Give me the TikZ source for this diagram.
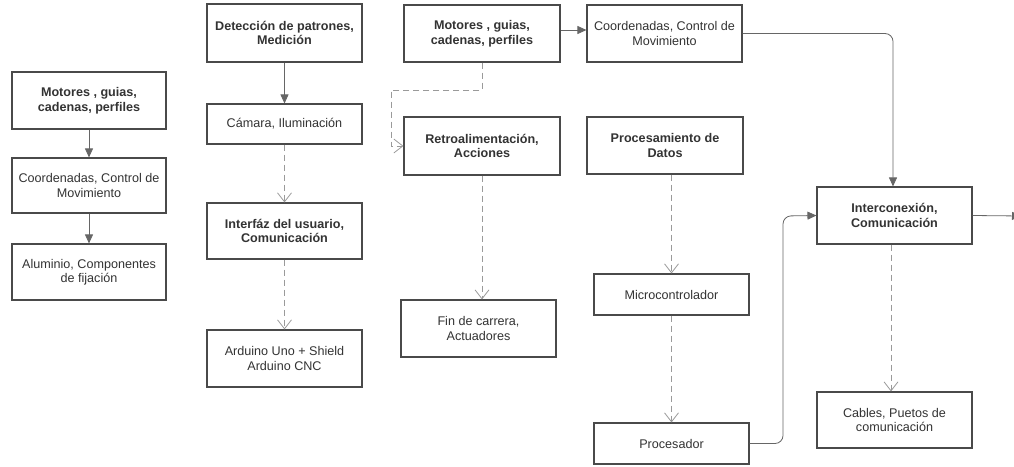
\documentclass[tikz,border=0pt]{standalone}
\usepackage{fontspec}
\setmainfont{Liberation Sans}
\usetikzlibrary{arrows.meta}
\definecolor{boxline}{HTML}{4A4A4A}
\definecolor{txt}{HTML}{333333}
\definecolor{solidline}{HTML}{666666}
\definecolor{dashline}{HTML}{9A9A9A}
\begin{document}
\begin{tikzpicture}[x=1pt,y=-1pt,
  box/.style={draw=boxline,line width=1.1pt,fill=white,text=txt,align=center,
    inner sep=2pt,font=\fontsize{12.6}{14.5}\selectfont,anchor=center},
  bbox/.style={box,font=\fontsize{12.6}{14.5}\selectfont\bfseries},
  sarrow/.style={draw=solidline,line width=0.8pt,-{Triangle[length=9pt,width=8pt]},rounded corners=8pt},
  darrow/.style={draw=dashline,line width=0.8pt,dash pattern=on 6pt off 4pt,
    -{Straight Barb[length=9pt,width=14pt,line width=0.8pt]}}]
\useasboundingbox (0,0) rectangle (1014,466);
% column 1
\node[bbox,minimum width=154pt,minimum height=57pt] (a1) at (89,100.5) {Motores , guias,\\cadenas, perfiles};
\node[box,minimum width=154pt,minimum height=55pt] (a2) at (89,185.5) {Coordenadas, Control de\\Movimiento};
\node[box,minimum width=154pt,minimum height=56pt] (a3) at (89,272) {Aluminio, Componentes\\de fijación};
% column 2
\node[bbox,minimum width=155pt,minimum height=58pt] (b1) at (284.5,33) {Detección de patrones,\\Medición};
\node[box,minimum width=155pt,minimum height=40pt] (b2) at (284.5,124) {Cámara, Iluminación};
\node[bbox,minimum width=155pt,minimum height=56pt] (b3) at (284.5,231) {Interfáz del usuario,\\Comunicación};
\node[box,minimum width=155pt,minimum height=57pt] (b4) at (284.5,358.5) {Arduino Uno + Shield\\Arduino CNC};
% column 3
\node[bbox,minimum width=156pt,minimum height=57pt] (c1) at (482,33.5) {Motores , guias,\\cadenas, perfiles};
\node[bbox,minimum width=156pt,minimum height=58pt] (c2) at (482,146) {Retroalimentación,\\Acciones};
\node[box,minimum width=155pt,minimum height=57pt] (c3) at (478.5,328.5) {Fin de carrera,\\Actuadores};
% column 4
\node[box,minimum width=155pt,minimum height=57pt] (d0) at (664.5,33.5) {Coordenadas, Control de\\Movimiento};
\node[bbox,minimum width=156pt,minimum height=57pt] (d1) at (665,145.5) {Procesamiento de\\Datos};
\node[box,minimum width=155pt,minimum height=41pt] (d2) at (671.5,294.5) {Microcontrolador};
\node[box,minimum width=155pt,minimum height=41pt] (d3) at (671.5,443.5) {Procesador};
% column 5
\node[bbox,minimum width=155pt,minimum height=57pt] (e1) at (894.5,215.5) {Interconexión,\\Comunicación};
\node[box,minimum width=155pt,minimum height=56pt] (e2) at (894.5,420) {Cables, Puetos de\\comunicación};
\coordinate (out) at (1021,216);
\coordinate (cturn) at (391,90);
% connectors
\draw[sarrow] (a1) -- (a2);
\draw[sarrow] (a2) -- (a3);
\draw[sarrow] (b1) -- (b2);
\draw[darrow] (b2) -- (b3);
\draw[darrow] (b3) -- (b4);
\draw[sarrow] (c1.east |- 0,30) -- (d0.west |- 0,30);
\draw[darrow] (c1.south) |- (cturn) |- (c2.west);
\draw[darrow] (c2.south) -- (c2.south |- c3.north);
\draw[darrow] (d2.north |- d1.south) -- (d2.north);
\draw[darrow] (d2) -- (d3);
\draw[darrow] (e1.south -| 891,0) -- (e2.north -| 891,0);
\draw[sarrow] (d0.east) -| (893,0 |- e1.north);
\draw[sarrow] (d3.east) -| (783,216) -- (e1.west);
\draw[sarrow] (e1.east) -- (out);
\end{tikzpicture}
\end{document}
